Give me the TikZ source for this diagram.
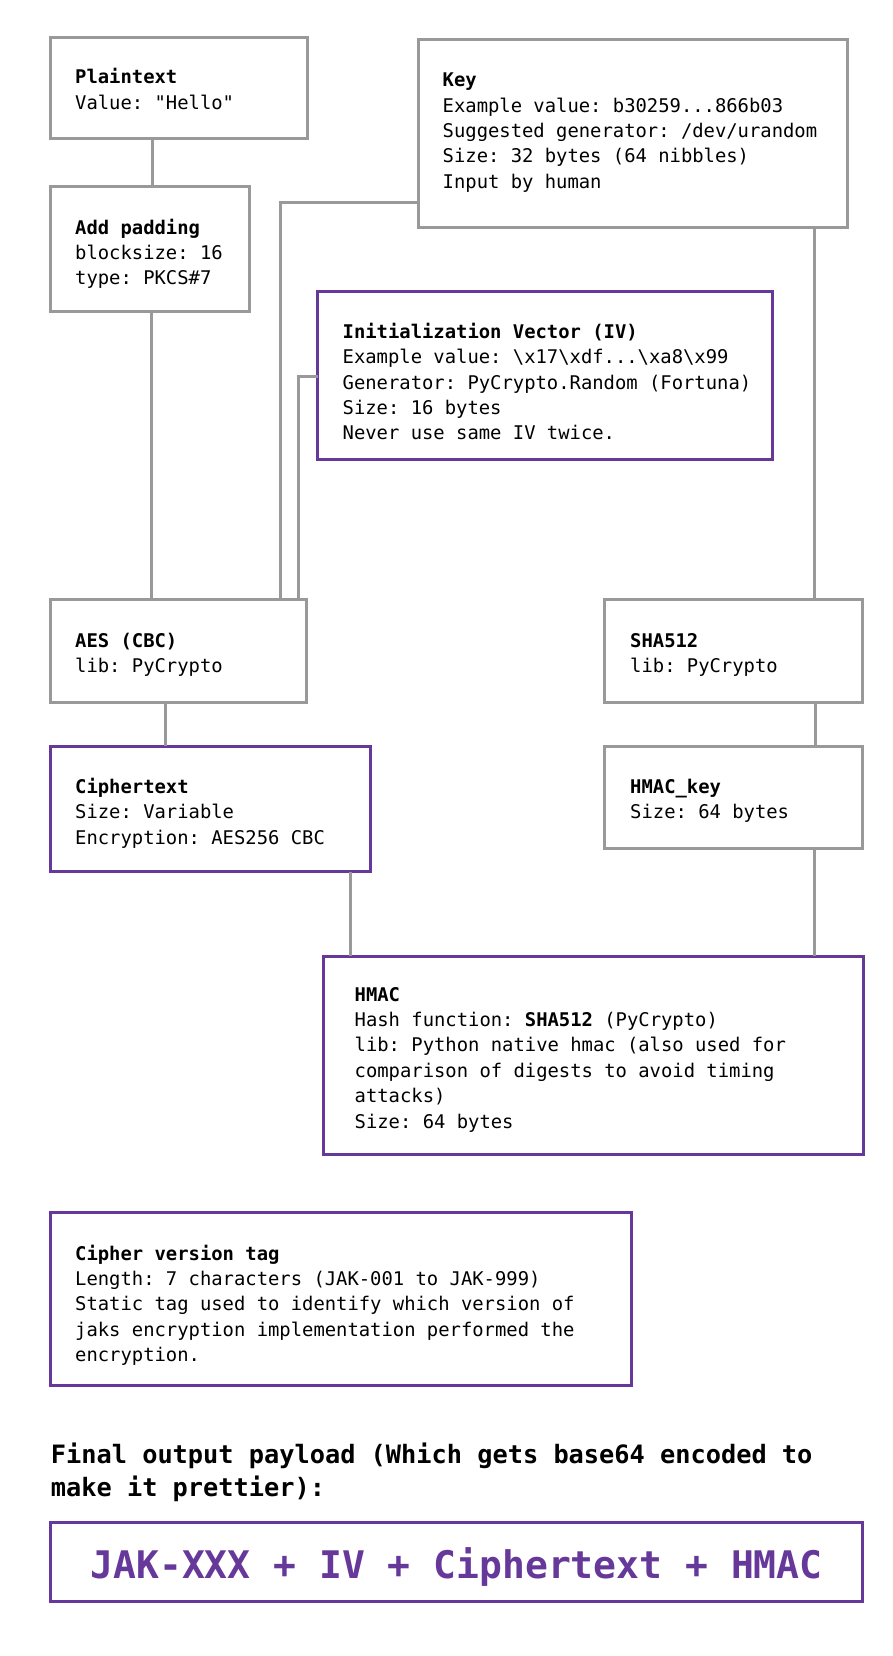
\documentclass[tikz,border=0pt]{standalone}
\usepackage{fontspec}
\setmonofont{DejaVu Sans Mono}
\renewcommand\familydefault{\ttdefault}
\definecolor{boxgray}{HTML}{999999}
\definecolor{jakpurple}{HTML}{65389A}
\tikzset{
  box/.style={draw=boxgray, line width=3pt, rectangle, inner sep=0pt, outer sep=0pt, anchor=north west},
  pbox/.style={box, draw=jakpurple},
  conn/.style={draw=boxgray, line width=3pt},
  txt/.style={anchor=base west, inner sep=0pt, font=\ttfamily\fontsize{18.85}{25.4}\selectfont},
}
\newcommand\mylines[1]{\vtop{\baselineskip=25.4pt\lineskiplimit=-100pt #1}}
\newcommand\bs{\textbackslash}
\begin{document}
\begin{tikzpicture}[x=1pt,y=-1pt]
\useasboundingbox[fill=white] (0,0) rectangle (893,1656);

% boxes
\node[box, minimum width=256.5pt, minimum height=101.5pt] (plain) at (50.7,37.5) {};
\node[box, minimum width=198.3pt, minimum height=125pt] (pad) at (50.7,186.7) {};
\node[box, minimum width=429.6pt, minimum height=187.7pt] (key) at (418,39.3) {};
\node[pbox, minimum width=455pt, minimum height=167.3pt] (iv) at (317.7,291.7) {};
\node[box, minimum width=256pt, minimum height=102.5pt] (aes) at (50.7,599.5) {};
\node[box, minimum width=257.1pt, minimum height=102.5pt] (sha) at (604.9,599.5) {};
\node[pbox, minimum width=319.8pt, minimum height=125.5pt] (ciph) at (50.7,746) {};
\node[box, minimum width=257.1pt, minimum height=102.5pt] (hkey) at (604.9,746) {};
\node[pbox, minimum width=540.5pt, minimum height=198pt] (hmac) at (323,956) {};
\node[pbox, minimum width=580.6pt, minimum height=173pt] (cvt) at (50.7,1212.7) {};
\node[pbox, minimum width=811.7pt, minimum height=79pt] (final) at (50.7,1522.5) {};

% texts
\node[txt] (plaintxt) at (75,84) {\mylines{\hbox{\bfseries Plaintext}\hbox{Value: "Hello"}}};
\node[txt] (padtxt) at (75,234) {\mylines{\hbox{\bfseries Add padding}\hbox{blocksize: 16}\hbox{type: PKCS\#7}}};
\node[txt] (keytxt) at (442.5,86.7) {\mylines{\hbox{\bfseries Key}\hbox{Example value: b30259...866b03}\hbox{Suggested generator: /dev/urandom}\hbox{Size: 32 bytes (64 nibbles)}\hbox{Input by human}}};
\node[txt] (ivtxt) at (342.5,338.3) {\mylines{\hbox{\bfseries Initialization Vector (IV)}\hbox{Example value: \bs x17\bs xdf...\bs xa8\bs x99}\hbox{Generator: PyCrypto.Random (Fortuna)}\hbox{Size: 16 bytes}\hbox{Never use same IV twice.}}};
\node[txt] (aestxt) at (75,647.3) {\mylines{\hbox{\bfseries AES (CBC)}\hbox{lib: PyCrypto}}};
\node[txt] (shatxt) at (630,647.3) {\mylines{\hbox{\bfseries SHA512}\hbox{lib: PyCrypto}}};
\node[txt] (ciphtxt) at (75,793.3) {\mylines{\hbox{\bfseries Ciphertext}\hbox{Size: Variable}\hbox{Encryption: AES256 CBC}}};
\node[txt] (hkeytxt) at (630,793.3) {\mylines{\hbox{\bfseries HMAC\_key}\hbox{Size: 64 bytes}}};
\node[txt] (hmactxt) at (354.5,1001) {\mylines{\hbox{\bfseries HMAC}\hbox{Hash function: \textbf{SHA512} (PyCrypto)}\hbox{lib: Python native hmac (also used for}\hbox{comparison of digests to avoid timing}\hbox{attacks)}\hbox{Size: 64 bytes}}};
\node[txt] (cvttxt) at (75,1260) {\mylines{\hbox{\bfseries Cipher version tag}\hbox{Length: 7 characters (JAK-001 to JAK-999)}\hbox{Static tag used to identify which version of}\hbox{jaks encryption implementation performed the}\hbox{encryption.}}};

\node[anchor=base west, inner sep=0pt, font=\ttfamily\fontsize{25.3}{33.7}\selectfont\bfseries] (head) at (50.7,1463)
  {\vtop{\baselineskip=33.7pt\lineskiplimit=-100pt\hbox{Final output payload (Which gets base64 encoded to}\hbox{make it prettier):}}};
\node[anchor=base, inner sep=0pt, font=\ttfamily\fontsize{38}{40}\selectfont\bfseries, text=jakpurple] (jak)
  at (final.center |- 0,1578.3) {JAK-XXX + IV + Ciphertext + HMAC};

% connectors
\draw[conn] (plain.south -| 152.7,0) -- (pad.north -| 152.7,0);
\draw[conn] (pad.south -| 151.5,0) -- (aes.north -| 151.5,0);
\draw[conn] (key.west |- 0,202.7) -- (280.5,202.7) -- (aes.north -| 280.5,0);
\draw[conn] (iv.west |- 0,376.7) -- (298.3,376.7) -- (aes.north -| 298.3,0);
\draw[conn] (key.south -| 814,0) -- (sha.north -| 814,0);
\draw[conn] (aes.south -| 165,0) -- (ciph.north -| 165,0);
\draw[conn] (sha.south -| 815,0) -- (hkey.north -| 815,0);
\draw[conn] (ciph.south -| 350.7,0) -- (hmac.north -| 350.7,0);
\draw[conn] (hkey.south -| 814,0) -- (hmac.north -| 814,0);
\end{tikzpicture}
\end{document}
